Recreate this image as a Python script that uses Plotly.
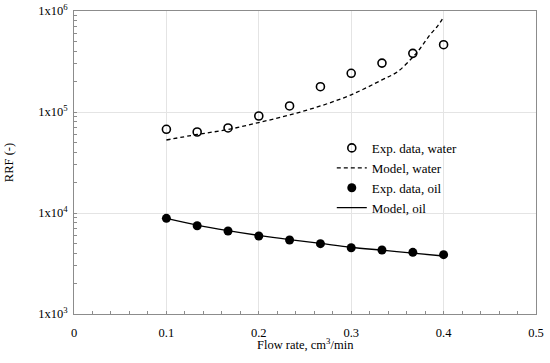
import plotly.graph_objects as go

# ---- data ----
flow_exp = [0.1, 0.1333, 0.1667, 0.2, 0.2333, 0.2667, 0.3, 0.3333, 0.3667, 0.4]
rrf_water_exp = [67400, 63400, 69500, 91300, 114700, 178000, 241600, 305000, 381000, 464000]
rrf_oil_exp = [8860, 7480, 6640, 5920, 5400, 4970, 4530, 4300, 4080, 3870]

flow_model_water = [0.1, 0.1333, 0.1667, 0.2, 0.2333, 0.2667, 0.3, 0.3333, 0.35, 0.3667, 0.375, 0.385, 0.393, 0.4]
rrf_model_water = [52800, 59900, 67100, 78700, 93400, 114700, 148000, 208000, 250000, 350000, 430000, 578000, 700000, 870000]

flow_model_oil = [0.1, 0.1333, 0.1667, 0.2, 0.2333, 0.2667, 0.3, 0.3333, 0.3667, 0.4]
rrf_model_oil = [8860, 7600, 6700, 6000, 5450, 5000, 4580, 4280, 4000, 3750]

y_tickvals = [1e3, 1e4, 1e5, 1e6]
y_ticktext = ["1x10<sup>3</sup>", "1x10<sup>4</sup>", "1x10<sup>5</sup>", "1x10<sup>6</sup>"]
x_tickvals = [0, 0.1, 0.2, 0.3, 0.4, 0.5]
x_ticktext = ["0", "0.1", "0.2", "0.3", "0.4", "0.5"]

minor_y = [m * 10 ** e for e in (3, 4, 5) for m in range(2, 10)]

FONT = "Liberation Serif"

fig = go.Figure()
fig.add_trace(go.Scatter(
    x=flow_exp, y=rrf_water_exp, mode="markers", name="Exp. data, water",
    marker=dict(symbol="circle-open", size=8, color="black", line=dict(width=1.6, color="black")),
))
fig.add_trace(go.Scatter(
    x=flow_model_water, y=rrf_model_water, mode="lines", name="Model, water",
    line=dict(color="black", width=1.3, dash="4px,3px", shape="spline"),
))
fig.add_trace(go.Scatter(
    x=flow_exp, y=rrf_oil_exp, mode="markers", name="Exp. data, oil",
    marker=dict(symbol="circle", size=9, color="black"),
))
fig.add_trace(go.Scatter(
    x=flow_model_oil, y=rrf_model_oil, mode="lines", name="Model, oil",
    line=dict(color="black", width=1.3, shape="spline"),
))

axis_common = dict(
    showline=True, linecolor="#8c8c8c", linewidth=1, mirror=True,
    showgrid=True, gridcolor="#e4e4e4", gridwidth=1,
    ticks="inside", ticklen=3, tickcolor="#8c8c8c",
    tickfont=dict(family=FONT, size=12.5, color="black"),
    zeroline=False, automargin=False, ticklabeloverflow="allow",
)

fig.update_xaxes(
    range=[0, 0.5], tickmode="array", tickvals=x_tickvals, ticktext=x_ticktext,
    minor=dict(dtick=0.02, ticks="inside", ticklen=3, tickcolor="#8c8c8c", showgrid=False),
    ticklabelstandoff=7,
    **axis_common,
)
fig.update_yaxes(
    type="log", range=[3, 6], tickmode="array", tickvals=y_tickvals, ticktext=y_ticktext,
    minor=dict(tickmode="array", tickvals=minor_y, ticks="inside", ticklen=3, tickcolor="#8c8c8c", showgrid=False),
    title=dict(text="RRF (-)", font=dict(family=FONT, size=12.5, color="black"), standoff=21),
    ticklabelstandoff=3,
    **axis_common,
)

# x-axis title placed close under the tick labels, as in the reference
fig.add_annotation(
    text="Flow rate, cm<sup>3</sup>/min", xref="paper", yref="paper", x=0.5, y=0,
    xanchor="center", yanchor="middle", yshift=-30, showarrow=False,
    font=dict(family=FONT, size=12.5, color="black"),
)

fig.update_layout(
    width=550, height=363,
    margin=dict(l=74, r=14, t=11, b=49),
    paper_bgcolor="white", plot_bgcolor="white",
    showlegend=True,
    legend=dict(
        x=0.558, y=0.449, xanchor="left", yanchor="middle",
        bgcolor="rgba(0,0,0,0)", borderwidth=0,
        font=dict(family=FONT, size=13, color="black"),
        itemwidth=30, tracegroupgap=0,
    ),
)

# remove the browser's default 8px body margin so the 550x363 figure fills the window
fig.write_html(
    "out.html",
    config={"displayModeBar": False},
    post_script="document.body.style.margin='0';",
)
